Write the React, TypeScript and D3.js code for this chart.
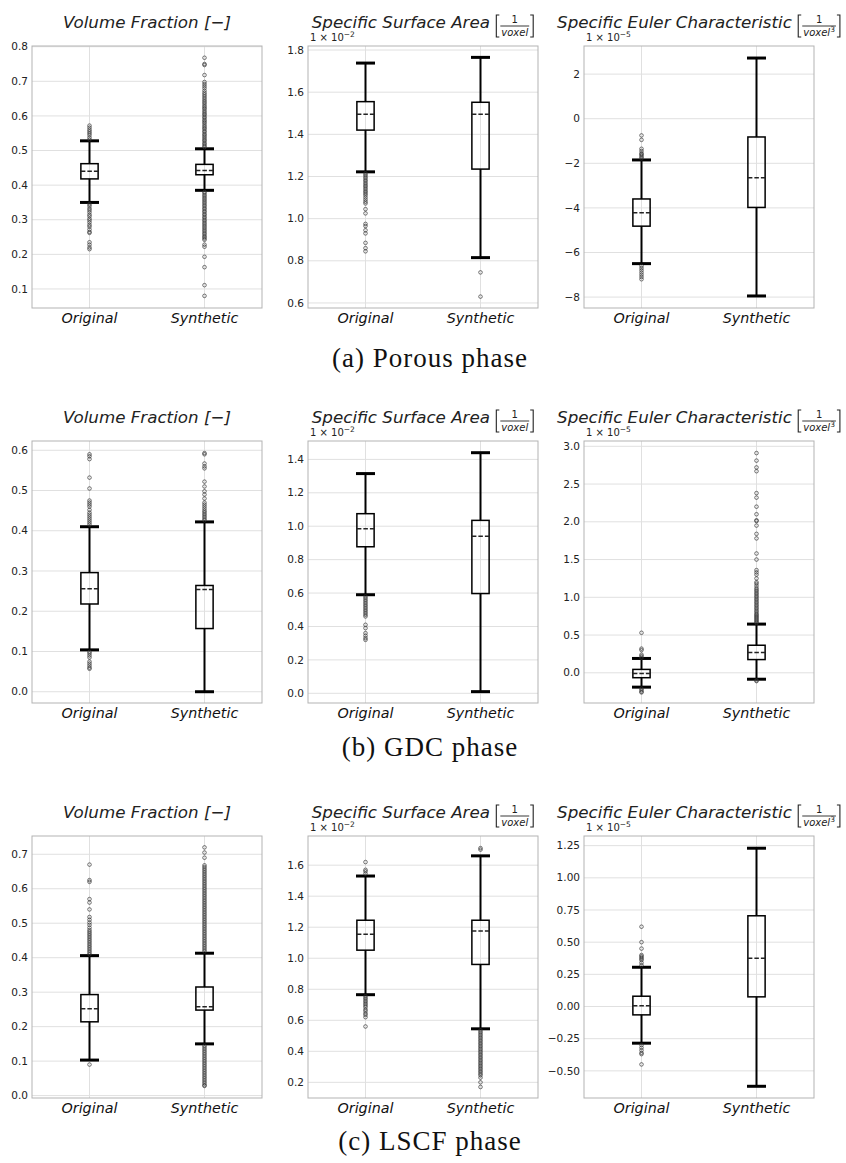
import React, { useEffect, useRef } from "react";
import * as d3 from "d3";

// Groups on the x axis of every panel
const groups = ["Original", "Synthetic"];
const captions = ["(a) Porous phase", "(b) GDC phase", "(c) LSCF phase"];

// Box stats are: lower whisker, Q1, median, Q3, upper whisker

// (a) Porous phase
const porousVfOrig = [0.35, 0.418, 0.44, 0.462, 0.528];
const porousVfOrigOut = [0.532, 0.538, 0.545, 0.55, 0.555, 0.56, 0.566, 0.572, 0.345, 0.34, 0.333, 0.328, 0.322, 0.315, 0.31, 0.303, 0.298, 0.292, 0.285, 0.28, 0.272, 0.265, 0.262, 0.235, 0.228, 0.22, 0.215];
const porousVfSynth = [0.385, 0.43, 0.442, 0.46, 0.505];
const porousVfSynthOut = [0.51, 0.514, 0.518, 0.522, 0.527, 0.531, 0.535, 0.54, 0.544, 0.548, 0.553, 0.557, 0.562, 0.566, 0.57, 0.575, 0.58, 0.584, 0.588, 0.593, 0.597, 0.602, 0.606, 0.61, 0.615, 0.62, 0.624, 0.628, 0.633, 0.638, 0.642, 0.647, 0.652, 0.657, 0.662, 0.667, 0.673, 0.68, 0.686, 0.692, 0.698, 0.718, 0.747, 0.75, 0.768,
  0.38, 0.376, 0.371, 0.367, 0.362, 0.358, 0.353, 0.349, 0.344, 0.34, 0.335, 0.331, 0.326, 0.322, 0.317, 0.313, 0.308, 0.304, 0.299, 0.295, 0.29, 0.286, 0.281, 0.277, 0.272, 0.268, 0.263, 0.259, 0.254, 0.25, 0.246, 0.242, 0.228, 0.222, 0.193, 0.163, 0.111, 0.08];
const porousVfTicks = [0.1, 0.2, 0.3, 0.4, 0.5, 0.6, 0.7, 0.8];

const porousSsaOrig = [1.222, 1.42, 1.495, 1.555, 1.738];
const porousSsaOrigOut = [1.215, 1.208, 1.2, 1.193, 1.185, 1.178, 1.17, 1.162, 1.155, 1.148, 1.14, 1.132, 1.125, 1.118, 1.11, 1.1, 1.09, 1.08, 1.072, 1.045, 1.025, 0.975, 0.965, 0.945, 0.93, 0.885, 0.86, 0.845];
const porousSsaSynth = [0.815, 1.235, 1.495, 1.552, 1.765];
const porousSsaSynthOut = [0.745, 0.63];
const porousSsaTicks = [0.6, 0.8, 1.0, 1.2, 1.4, 1.6, 1.8];

const porousEulOrig = [-6.5, -4.82, -4.22, -3.6, -1.85];
const porousEulOrigOut = [-1.78, -1.72, -1.65, -1.6, -1.55, -1.45, -1.35, -0.95, -0.75, -6.6, -6.7, -6.8, -6.9, -7.0, -7.1, -7.2];
const porousEulSynth = [-7.95, -3.98, -2.65, -0.82, 2.72];
const porousEulSynthOut: number[] = [];
const porousEulTicks = [-8, -6, -4, -2, 0, 2];

// (b) GDC phase
const gdcVfOrig = [0.104, 0.218, 0.256, 0.296, 0.41];
const gdcVfOrigOut = [0.415, 0.42, 0.425, 0.43, 0.435, 0.44, 0.445, 0.452, 0.46, 0.465, 0.47, 0.475, 0.505, 0.532, 0.578, 0.585, 0.59, 0.099, 0.095, 0.09, 0.085, 0.075, 0.07, 0.065, 0.06, 0.057];
const gdcVfSynth = [0.0, 0.157, 0.254, 0.264, 0.422];
const gdcVfSynthOut = [0.426, 0.43, 0.434, 0.438, 0.442, 0.446, 0.45, 0.455, 0.46, 0.465, 0.47, 0.48, 0.49, 0.498, 0.51, 0.522, 0.555, 0.56, 0.567, 0.59, 0.593];
const gdcVfTicks = [0.0, 0.1, 0.2, 0.3, 0.4, 0.5, 0.6];

const gdcSsaOrig = [0.59, 0.877, 0.985, 1.075, 1.315];
const gdcSsaOrigOut = [0.58, 0.57, 0.56, 0.55, 0.54, 0.53, 0.52, 0.51, 0.5, 0.49, 0.48, 0.47, 0.46, 0.41, 0.39, 0.36, 0.345, 0.33, 0.32];
const gdcSsaSynth = [0.01, 0.597, 0.94, 1.035, 1.44];
const gdcSsaSynthOut: number[] = [];
const gdcSsaTicks = [0.0, 0.2, 0.4, 0.6, 0.8, 1.0, 1.2, 1.4];

const gdcEulOrig = [-0.19, -0.065, -0.01, 0.045, 0.19];
const gdcEulOrigOut = [0.2, 0.22, 0.24, 0.3, 0.32, 0.53, -0.21, -0.23, -0.25, -0.26];
const gdcEulSynth = [-0.085, 0.175, 0.27, 0.365, 0.645];
const gdcEulSynthOut = [0.66, 0.675, 0.69, 0.705, 0.72, 0.735, 0.75, 0.765, 0.78, 0.8, 0.82, 0.84, 0.86, 0.88, 0.9, 0.92, 0.94, 0.96, 0.98, 1.0, 1.02, 1.04, 1.06, 1.08, 1.1, 1.12, 1.15, 1.18, 1.2, 1.25, 1.3, 1.33, 1.36, 1.5, 1.58, 1.78, 1.84, 1.95, 2.01, 2.02, 2.1, 2.2, 2.32, 2.38, 2.67, 2.72, 2.81, 2.91, -0.1, -0.11];
const gdcEulTicks = [0.0, 0.5, 1.0, 1.5, 2.0, 2.5, 3.0];

// (c) LSCF phase
const lscfVfOrig = [0.103, 0.214, 0.252, 0.293, 0.406];
const lscfVfOrigOut = [0.41, 0.415, 0.42, 0.425, 0.43, 0.435, 0.44, 0.445, 0.45, 0.455, 0.46, 0.465, 0.47, 0.475, 0.48, 0.487, 0.495, 0.502, 0.51, 0.518, 0.54, 0.56, 0.57, 0.62, 0.625, 0.67, 0.09];
const lscfVfSynth = [0.15, 0.248, 0.258, 0.315, 0.413];
const lscfVfSynthOut = [0.418, 0.423, 0.428, 0.433, 0.438, 0.443, 0.448, 0.453, 0.458, 0.463, 0.468, 0.473, 0.478, 0.483, 0.488, 0.493, 0.498, 0.503, 0.508, 0.513, 0.518, 0.523, 0.528, 0.533, 0.538, 0.543, 0.548, 0.553, 0.558, 0.563, 0.568, 0.573, 0.578, 0.583, 0.588, 0.593, 0.598, 0.603, 0.608, 0.613, 0.618, 0.623, 0.628, 0.633, 0.638, 0.643, 0.648, 0.653, 0.658, 0.663, 0.668, 0.69, 0.705, 0.72,
  0.145, 0.14, 0.135, 0.13, 0.125, 0.12, 0.115, 0.11, 0.105, 0.1, 0.095, 0.09, 0.085, 0.08, 0.075, 0.07, 0.065, 0.06, 0.055, 0.05, 0.045, 0.04, 0.035, 0.03, 0.028];
const lscfVfTicks = [0.0, 0.1, 0.2, 0.3, 0.4, 0.5, 0.6, 0.7];

const lscfSsaOrig = [0.765, 1.052, 1.155, 1.245, 1.53];
const lscfSsaOrigOut = [1.545, 1.56, 1.57, 1.62, 0.755, 0.745, 0.735, 0.725, 0.715, 0.705, 0.695, 0.685, 0.67, 0.66, 0.645, 0.635, 0.62, 0.56];
const lscfSsaSynth = [0.545, 0.96, 1.175, 1.245, 1.66];
const lscfSsaSynthOut = [1.7, 1.71, 0.535, 0.525, 0.515, 0.505, 0.495, 0.485, 0.475, 0.465, 0.455, 0.445, 0.435, 0.425, 0.415, 0.405, 0.395, 0.385, 0.375, 0.365, 0.355, 0.345, 0.335, 0.325, 0.315, 0.305, 0.295, 0.285, 0.275, 0.265, 0.255, 0.245, 0.23, 0.2, 0.17];
const lscfSsaTicks = [0.2, 0.4, 0.6, 0.8, 1.0, 1.2, 1.4, 1.6];

const lscfEulOrig = [-0.285, -0.065, 0.005, 0.08, 0.305];
const lscfEulOrigOut = [0.32, 0.34, 0.36, 0.37, 0.38, 0.39, 0.4, 0.45, 0.5, 0.62, -0.3, -0.32, -0.34, -0.36, -0.37, -0.45];
const lscfEulSynth = [-0.62, 0.075, 0.375, 0.705, 1.23];
const lscfEulSynthOut: number[] = [];
const lscfEulTicks = [-0.5, -0.25, 0.0, 0.25, 0.5, 0.75, 1.0, 1.25];

// y domains
const domains = [
  [0.045, 0.802], [0.576, 1.819], [-8.49, 3.26],
  [-0.028, 0.623], [-0.058, 1.51], [-0.4, 3.07],
  [-0.007, 0.753], [0.099, 1.788], [-0.711, 1.325],
];

const kinds = ["vf", "ssa", "eul"];

const panels = [
  { stats: [porousVfOrig, porousVfSynth], out: [porousVfOrigOut, porousVfSynthOut], ticks: porousVfTicks, fmt: ".1f" },
  { stats: [porousSsaOrig, porousSsaSynth], out: [porousSsaOrigOut, porousSsaSynthOut], ticks: porousSsaTicks, fmt: ".1f" },
  { stats: [porousEulOrig, porousEulSynth], out: [porousEulOrigOut, porousEulSynthOut], ticks: porousEulTicks, fmt: "d" },
  { stats: [gdcVfOrig, gdcVfSynth], out: [gdcVfOrigOut, gdcVfSynthOut], ticks: gdcVfTicks, fmt: ".1f" },
  { stats: [gdcSsaOrig, gdcSsaSynth], out: [gdcSsaOrigOut, gdcSsaSynthOut], ticks: gdcSsaTicks, fmt: ".1f" },
  { stats: [gdcEulOrig, gdcEulSynth], out: [gdcEulOrigOut, gdcEulSynthOut], ticks: gdcEulTicks, fmt: ".1f" },
  { stats: [lscfVfOrig, lscfVfSynth], out: [lscfVfOrigOut, lscfVfSynthOut], ticks: lscfVfTicks, fmt: ".1f" },
  { stats: [lscfSsaOrig, lscfSsaSynth], out: [lscfSsaOrigOut, lscfSsaSynthOut], ticks: lscfSsaTicks, fmt: ".1f" },
  { stats: [lscfEulOrig, lscfEulSynth], out: [lscfEulOrigOut, lscfEulSynthOut], ticks: lscfEulTicks, fmt: ".2f" },
];

const W = 846;
const H = 1163;
const colLeft = [32, 308, 584];
const rowTop = [46, 441, 836];
const plotW = 230;
const plotH = 262;
const captionY = [367, 756, 1150];
const FONT = "DejaVu Sans";
const TEXT = "#222";
const TITLE_SIZE = 16.7;

function drawTitle(g: any, kind: string, cx: number, ty: number) {
  const t = g.append("g").attr("font-family", FONT).attr("fill", TEXT);
  if (kind === "vf") {
    t.append("text").attr("x", cx).attr("y", ty).attr("text-anchor", "middle")
      .attr("font-size", TITLE_SIZE).attr("font-style", "italic").text("Volume Fraction [\u2212]");
    return;
  }
  const label = kind === "ssa" ? "Specific Surface Area" : "Specific Euler Characteristic";
  const main = t.append("text").attr("y", ty).attr("font-size", TITLE_SIZE).attr("font-style", "italic").text(label);
  const w1 = main.node().getComputedTextLength() + TITLE_SIZE * 0.32;
  // fraction 1 / voxel, numerator and denominator kept apart
  const num = t.append("text").attr("y", ty - 5).attr("font-size", 10).attr("text-anchor", "middle").text("1");
  const den = t.append("text").attr("y", ty + 8).attr("font-size", 10).attr("text-anchor", "middle");
  den.append("tspan").attr("font-style", "italic").text("voxel");
  if (kind === "eul") den.append("tspan").attr("font-size", 7.5).attr("dy", -4).text("3");
  const wf = den.node().getComputedTextLength() + 2;
  const bw = 5;
  const total = w1 + bw + wf + bw;
  const x0 = cx - total / 2;
  main.attr("x", x0);
  const bx = x0 + w1;
  t.append("path").attr("d", `M${bx + 4},${ty - 13}H${bx + 1}V${ty + 9}H${bx + 4}`)
    .attr("fill", "none").attr("stroke", TEXT).attr("stroke-width", 1.1);
  const fx = bx + bw;
  num.attr("x", fx + wf / 2);
  den.attr("x", fx + wf / 2);
  t.append("line").attr("x1", fx).attr("x2", fx + wf).attr("y1", ty - 2).attr("y2", ty - 2)
    .attr("stroke", TEXT).attr("stroke-width", 0.9);
  const rx = fx + wf;
  t.append("path").attr("d", `M${rx + 1},${ty - 13}H${rx + 4}V${ty + 9}H${rx + 1}`)
    .attr("fill", "none").attr("stroke", TEXT).attr("stroke-width", 1.1);
  // offset text of the y axis
  const off = t.append("text").attr("x", 2).attr("y", ty + 13).attr("font-size", 10);
  off.append("tspan").text("1 \u00d7 10");
  off.append("tspan").attr("font-size", 7.5).attr("dy", -4).text(kind === "ssa" ? "\u22122" : "\u22125");
}

export default function App() {
  const ref = useRef<SVGSVGElement>(null);

  useEffect(() => {
    const svg = d3.select(ref.current);
    svg.selectAll("*").remove();
    svg.append("rect").attr("width", W).attr("height", H).attr("fill", "#fff");

    panels.forEach((p, i) => {
      const r = Math.floor(i / 3);
      const c = i % 3;
      const g = svg.append("g").attr("transform", `translate(${colLeft[c]},${rowTop[r]})`);
      const x = d3.scaleLinear().domain([0.5, 2.5]).range([0, plotW]);
      const y = d3.scaleLinear().domain(domains[i]).range([plotH, 0]);
      const boxW = x(1.15) - x(1);
      const capW = boxW * 0.55;

      // grid
      g.selectAll(".gy").data(p.ticks).join("line")
        .attr("x1", 0).attr("x2", plotW)
        .attr("y1", (d: number) => y(d)).attr("y2", (d: number) => y(d))
        .attr("stroke", "#e0e0e0").attr("stroke-width", 1);
      g.selectAll(".gx").data([1, 2]).join("line")
        .attr("x1", (d: number) => x(d)).attr("x2", (d: number) => x(d))
        .attr("y1", 0).attr("y2", plotH)
        .attr("stroke", "#e0e0e0").attr("stroke-width", 1);
      g.append("rect").attr("width", plotW).attr("height", plotH)
        .attr("fill", "none").attr("stroke", "#b3b3b3").attr("stroke-width", 1);

      // y tick labels
      const fmt = d3.format(p.fmt);
      g.append("g").selectAll("text").data(p.ticks).join("text")
        .attr("x", -4).attr("y", (d: number) => y(d)).attr("dy", "0.35em")
        .attr("text-anchor", "end").attr("font-family", FONT).attr("font-size", 10.5)
        .attr("fill", TEXT).text((d: number) => fmt(d));

      // x tick labels
      g.append("g").selectAll("text").data(groups).join("text")
        .attr("x", (_: string, k: number) => x(k + 1)).attr("y", plotH + 15)
        .attr("text-anchor", "middle").attr("font-family", FONT).attr("font-size", 14.3)
        .attr("font-style", "italic").attr("fill", "#111").text((d: string) => d);

      // boxes
      p.stats.forEach((s, k) => {
        const cx = x(k + 1);
        const [lo, q1, med, q3, hi] = s;
        const bg = g.append("g");
        bg.append("line").attr("x1", cx).attr("x2", cx).attr("y1", y(q3)).attr("y2", y(hi))
          .attr("stroke", "#000").attr("stroke-width", 2);
        bg.append("line").attr("x1", cx).attr("x2", cx).attr("y1", y(q1)).attr("y2", y(lo))
          .attr("stroke", "#000").attr("stroke-width", 2);
        bg.selectAll(".cap").data([lo, hi]).join("line")
          .attr("x1", cx - capW).attr("x2", cx + capW)
          .attr("y1", (d: number) => y(d)).attr("y2", (d: number) => y(d))
          .attr("stroke", "#000").attr("stroke-width", 3);
        bg.append("rect").attr("x", cx - boxW / 2).attr("width", boxW)
          .attr("y", y(q3)).attr("height", y(q1) - y(q3))
          .attr("fill", "none").attr("stroke", "#000").attr("stroke-width", 1.5);
        bg.append("line").attr("x1", cx - boxW / 2).attr("x2", cx + boxW / 2)
          .attr("y1", y(med)).attr("y2", y(med))
          .attr("stroke", "#222").attr("stroke-width", 1.5).attr("stroke-dasharray", "4.5,2");
        bg.selectAll("circle").data(p.out[k]).join("circle")
          .attr("cx", cx).attr("cy", (d: number) => y(d)).attr("r", 1.8)
          .attr("fill", "none").attr("stroke", "#333").attr("stroke-opacity", 0.85).attr("stroke-width", 0.8);
      });

      drawTitle(g, kinds[c], plotW / 2, -18);
    });

    svg.selectAll(".cap").data(captions).join("text")
      .attr("x", 430).attr("y", (_: string, k: number) => captionY[k])
      .attr("text-anchor", "middle").attr("font-family", "Liberation Serif")
      .attr("font-size", 27).attr("letter-spacing", 1).attr("fill", "#111")
      .text((d: string) => d);
  }, []);

  return (
    <svg ref={ref} width={W} height={H} style={{ position: "absolute", left: 0, top: 0 }} />
  );
}
